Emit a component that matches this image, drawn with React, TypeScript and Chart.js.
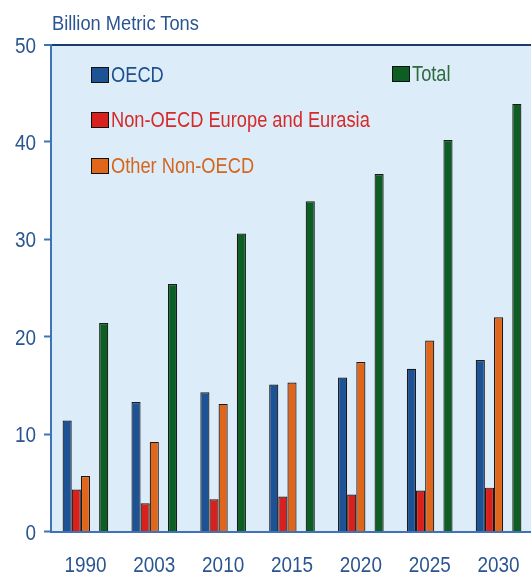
import React, { useEffect, useRef } from "react";
import { Chart, registerables } from "chart.js";

Chart.register(...registerables);

const categories = ["1990", "2003", "2010", "2015", "2020", "2025", "2030"];
const oecd = [11.4, 13.3, 14.3, 15.1, 15.8, 16.7, 17.6];
const nonOecdEurope = [4.3, 2.9, 3.3, 3.6, 3.8, 4.2, 4.5];
const otherNonOecd = [5.7, 9.2, 13.1, 15.3, 17.4, 19.6, 22.0];
const total = [21.4, 25.4, 30.6, 33.9, 36.7, 40.2, 43.9];
const yTicks = [0, 10, 20, 30, 40, 50];

const FONT = '"Liberation Sans", Arial, sans-serif';
const TICK_COLOR = "#2a5590";
const COLORS = {
  oecd: "#1d5294",
  nonOecd: "#d8211c",
  other: "#e0661c",
  total: "#0d5e22",
};

const bgPlugin = {
  id: "areaBg",
  beforeDraw(chart: any) {
    const { ctx, chartArea } = chart;
    ctx.save();
    ctx.fillStyle = "#dcecf9";
    ctx.fillRect(chartArea.left, chartArea.top, chartArea.right - chartArea.left, chartArea.bottom - chartArea.top);
    ctx.restore();
  },
};

// Draw the scale tick labels in a narrow (horizontally condensed) face
const narrowLabels = {
  id: "narrowLabels",
  afterDraw(chart: any) {
    const { ctx, chartArea } = chart;
    const xs = chart.scales.x;
    const ys = chart.scales.y;
    ctx.save();
    ctx.fillStyle = TICK_COLOR;
    ctx.font = `22px ${FONT}`;
    ctx.textBaseline = "alphabetic";
    const sx = 0.86;
    xs.ticks.forEach((t: any, i: number) => {
      const px = xs.getPixelForTick(i);
      const label = String(xs.getLabelForValue(t.value));
      ctx.save();
      ctx.translate(px, chartArea.bottom + 40);
      ctx.scale(sx, 1);
      ctx.textAlign = "center";
      ctx.fillText(label, 0, 0);
      ctx.restore();
    });
    ys.ticks.forEach((t: any) => {
      const py = ys.getPixelForValue(t.value);
      ctx.save();
      ctx.translate(chartArea.left - 15, py + 8);
      ctx.scale(sx, 1);
      ctx.textAlign = "right";
      ctx.fillText(String(t.value), 0, 0);
      ctx.restore();
    });
    ctx.restore();
  },
};

export default function App() {
  const ref = useRef<HTMLCanvasElement | null>(null);

  useEffect(() => {
    if (!ref.current) return;
    const border = "#1a1a1a";
    const chart = new Chart(ref.current, {
      type: "bar",
      data: {
        labels: categories,
        datasets: [
          { label: "OECD", data: oecd, backgroundColor: COLORS.oecd, borderColor: border, borderWidth: 1.2 },
          { label: "Non-OECD Europe and Eurasia", data: nonOecdEurope, backgroundColor: COLORS.nonOecd, borderColor: border, borderWidth: 1.2 },
          { label: "Other Non-OECD", data: otherNonOecd, backgroundColor: COLORS.other, borderColor: border, borderWidth: 1.2 },
          { label: "", data: categories.map(() => null), backgroundColor: "transparent", borderWidth: 0 },
          { label: "Total", data: total, backgroundColor: COLORS.total, borderColor: border, borderWidth: 1.2 },
        ],
      },
      options: {
        responsive: false,
        animation: false,
        maintainAspectRatio: false,
        layout: { padding: { top: 44.5, right: 0, bottom: 0, left: 0 } },
        datasets: { bar: { barPercentage: 1, categoryPercentage: 0.663 } },
        plugins: {
          legend: { display: false },
          tooltip: { enabled: false },
          title: { display: false },
        },
        scales: {
          x: {
            grid: { display: false, drawTicks: false },
            border: { display: true, color: "#3f73b5", width: 2 },
            ticks: { display: false },
            afterFit(scale: any) {
              scale.height = 43.5;
            },
          },
          y: {
            min: 0,
            max: 50,
            afterBuildTicks(scale: any) {
              scale.ticks = yTicks.map((v) => ({ value: v }));
            },
            grid: {
              drawOnChartArea: true,
              color: (c: any) => (c.tick && c.tick.value === 50 ? "#1d3b6b" : "transparent"),
              lineWidth: (c: any) => (c.tick && c.tick.value === 50 ? 2 : 1),
              tickColor: "#3f73b5",
              tickWidth: 2,
              tickLength: 7,
              drawTicks: true,
            },
            border: { display: true, color: "#3f73b5", width: 2 },
            ticks: { display: false },
            afterFit(scale: any) {
              scale.width = 51;
            },
          },
        },
      },
      plugins: [bgPlugin, narrowLabels],
    } as any);
    return () => chart.destroy();
  }, []);

  const legendItem = (label: string, color: string, textColor: string, left: number, top: number) => (
    <div
      style={{
        position: "absolute",
        left,
        top,
        display: "flex",
        alignItems: "center",
        fontFamily: FONT,
        fontSize: 22,
        lineHeight: "24px",
        color: textColor,
        whiteSpace: "nowrap",
      }}
    >
      <div
        style={{
          width: 16,
          height: 14,
          background: color,
          border: "1.5px solid #111",
          marginRight: 2,
          flex: "none",
        }}
      />
      <span style={{ display: "inline-block", transform: "scaleX(0.83)", transformOrigin: "left center" }}>{label}</span>
    </div>
  );

  return (
    <div style={{ position: "fixed", left: 0, top: 0, width: 531, height: 575, overflow: "hidden", background: "#fff" }}>
      <canvas ref={ref} width={533} height={575} style={{ position: "absolute", left: 0, top: 0, width: 533, height: 575 }} />
      <div
        style={{
          position: "absolute",
          left: 52,
          top: 12,
          fontFamily: FONT,
          fontSize: 21,
          lineHeight: "21px",
          color: "#2a5590",
          whiteSpace: "nowrap",
          transform: "scaleX(0.87)",
          transformOrigin: "left center",
        }}
      >
        Billion Metric Tons
      </div>
      {legendItem("OECD", COLORS.oecd, "#1f4f8e", 91, 63)}
      {legendItem("Non-OECD Europe and Eurasia", COLORS.nonOecd, "#d62a2a", 91, 108)}
      {legendItem("Other Non-OECD", COLORS.other, "#d4661e", 91, 154)}
      {legendItem("Total", COLORS.total, "#2e6a3e", 392, 62)}
    </div>
  );
}
